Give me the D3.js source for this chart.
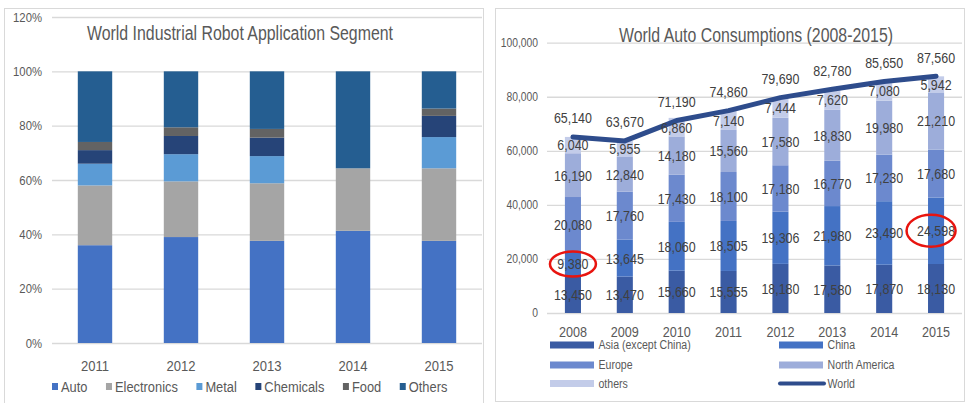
<!DOCTYPE html>
<html><head><meta charset="utf-8">
<script src="https://cdn.jsdelivr.net/npm/d3@7"></script>
<style>
html,body{margin:0;padding:0;background:#fff;}
svg{display:block;}
text{font-family:'Liberation Sans',Arial,sans-serif;}
</style></head>
<body>
<svg id="chart" width="968" height="403"></svg>
<script>
// ---------- Left chart data (share, %) ----------
const robotYears = ["2011","2012","2013","2014","2015"];
const robotSegments = ["Auto","Electronics","Metal","Chemicals","Food","Others"];
const autoShare = [36, 39, 37.6, 41.3, 37.6];
const electronicsShare = [22, 20.5, 21.2, 23, 26.7];
const metalShare = [8, 10, 10, 0, 11.5];
const chemicalsShare = [5, 6.7, 6.8, 0, 7.8];
const foodShare = [3, 3.2, 3.2, 0, 2.7];
const othersShare = [26, 20.6, 21.2, 35.7, 13.7];
const robotTicks = [0, 20, 40, 60, 80, 100, 120];
const robotColors = ["#4472C4","#A5A5A5","#5B9BD5","#264478","#636363","#255E91"];

// ---------- Right chart data (thousand units) ----------
const autoYears = ["2008","2009","2010","2011","2012","2013","2014","2015"];
const regionNames = ["Asia (except China)","China","Europe","North America","others"];
const asiaExChina = [13450, 13470, 15660, 15555, 18180, 17580, 17870, 18130];
const china = [9380, 13645, 18060, 18505, 19306, 21980, 23490, 24598];
const europe = [20080, 17760, 17430, 18100, 17180, 16770, 17230, 17680];
const northAmerica = [16190, 12840, 14180, 15560, 17580, 18830, 19980, 21210];
const otherRegions = [6040, 5955, 6860, 7140, 7444, 7620, 7080, 5942];
const world = [65140, 63670, 71190, 74860, 79690, 82780, 85650, 87560];
const autoTicks = [0, 20000, 40000, 60000, 80000, 100000];
const regionColors = ["#3A5BA3","#4472C4","#6C89CE","#9DADDA","#C3CCE9"];
const worldColor = "#2E4C8C";
const highlighted = [{year:"2008", region:"China"}, {year:"2015", region:"China"}];

const svg = d3.select("#chart");
const textCol = "#595959", gridCol = "#D9D9D9", labelCol = "#404040";

// horizontally condense text (the reference uses a narrow face)
function squeeze(sel, f) {
  sel.each(function(){
    const w = this.getComputedTextLength();
    d3.select(this).attr("textLength", w * f).attr("lengthAdjust", "spacingAndGlyphs");
  });
  return sel;
}

// panel frames
svg.append("rect").attr("x",4.5).attr("y",8.5).attr("width",479).attr("height",400)
  .attr("fill","none").attr("stroke","#D9D9D9");
svg.append("rect").attr("x",495.5).attr("y",8.5).attr("width",469).attr("height",393)
  .attr("fill","none").attr("stroke","#D9D9D9");

// ================= LEFT CHART =================
(function(){
  const L = svg.append("g");
  const x = d3.scaleBand().domain(robotYears).range([52,482]).paddingInner(0.6).paddingOuter(0.3);
  const y = d3.scaleLinear().domain([0,120]).range([343,17]);

  const yAxis = d3.axisLeft(y).tickValues(robotTicks).tickFormat(d => d + "%").tickSize(-430).tickPadding(10);
  const ga = L.append("g").attr("transform","translate(52,0)").call(yAxis);
  ga.select(".domain").remove();
  ga.selectAll("line").attr("stroke",gridCol).attr("stroke-width",1.3);
  squeeze(ga.selectAll("text").attr("fill",textCol).style("font-size","13px"), 0.87);

  const rows = robotYears.map((yr,i) => ({year:yr, Auto:autoShare[i], Electronics:electronicsShare[i],
    Metal:metalShare[i], Chemicals:chemicalsShare[i], Food:foodShare[i], Others:othersShare[i]}));
  const stacked = d3.stack().keys(robotSegments)(rows);
  const color = d3.scaleOrdinal().domain(robotSegments).range(robotColors);

  L.append("g").selectAll("g").data(stacked).join("g").attr("fill", d => color(d.key))
    .selectAll("rect").data(d => d).join("rect")
    .attr("x", d => x(d.data.year)).attr("width", x.bandwidth())
    .attr("y", d => y(d[1])).attr("height", d => Math.max(0, y(d[0]) - y(d[1])));

  const xAxis = d3.axisBottom(x).tickSize(0).tickPadding(0);
  const gx = L.append("g").attr("transform","translate(0,371)").call(xAxis);
  gx.select(".domain").remove();
  squeeze(gx.selectAll("text").attr("fill",textCol).style("font-size","15px").attr("dy","0"), 0.87);

  const title = L.append("text").attr("x",87).attr("y",40).attr("fill",textCol).style("font-size","20px")
    .text("World Industrial Robot Application Segment");
  title.attr("textLength",306).attr("lengthAdjust","spacingAndGlyphs");

  let lx = 52;
  const lg = L.append("g");
  robotSegments.forEach((s,i) => {
    lg.append("rect").attr("x",lx).attr("y",383).attr("width",6).attr("height",7).attr("fill",color(s));
    const t = lg.append("text").attr("x",lx+9).attr("y",392).attr("fill",textCol).style("font-size","15.5px").text(s);
    const w = t.node().getComputedTextLength() * 0.83;
    t.attr("textLength", w).attr("lengthAdjust","spacingAndGlyphs");
    lx += 9 + w + 18.5;
  });
})();

// ================= RIGHT CHART =================
(function(){
  const R = svg.append("g");
  const x = d3.scaleBand().domain(autoYears).range([547,962]).paddingInner(0.69).paddingOuter(0.345);
  const y = d3.scaleLinear().domain([0,100000]).range([313,42.7]);

  const yAxis = d3.axisLeft(y).tickValues(autoTicks).tickFormat(d3.format(",")).tickSize(-415).tickPadding(9);
  const ga = R.append("g").attr("transform","translate(547,0)").call(yAxis);
  ga.select(".domain").remove();
  ga.selectAll("line").attr("stroke",gridCol).attr("stroke-width",1.3);
  squeeze(ga.selectAll("text").attr("fill",textCol).style("font-size","12px"), 0.86);

  const title = R.append("text").attr("x",619).attr("y",42).attr("fill",textCol).style("font-size","20px")
    .text("World Auto Consumptions (2008-2015)");
  title.attr("textLength",274).attr("lengthAdjust","spacingAndGlyphs");

  const series = [asiaExChina, china, europe, northAmerica, otherRegions];
  const rows = autoYears.map((yr,i) => {
    const o = {year:yr};
    regionNames.forEach((r,j) => o[r] = series[j][i]);
    return o;
  });
  const stacked = d3.stack().keys(regionNames)(rows);
  const color = d3.scaleOrdinal().domain(regionNames).range(regionColors);

  R.append("g").selectAll("g").data(stacked).join("g").attr("fill", d => color(d.key))
    .selectAll("rect").data(d => d).join("rect")
    .attr("x", d => x(d.data.year)).attr("width", x.bandwidth())
    .attr("y", d => y(d[1])).attr("height", d => y(d[0]) - y(d[1]));

  const xAxis = d3.axisBottom(x).tickSize(0).tickPadding(0);
  const gx = R.append("g").attr("transform","translate(0,337)").call(xAxis);
  gx.select(".domain").remove();
  squeeze(gx.selectAll("text").attr("fill",textCol).style("font-size","14.5px").attr("dy","0"), 0.87);

  const cx = d => x(d) + x.bandwidth()/2;
  const line = d3.line().x((d,i) => cx(autoYears[i])).y(d => y(d));
  R.append("path").datum(world).attr("d", line).attr("fill","none")
    .attr("stroke",worldColor).attr("stroke-width",5).attr("stroke-linejoin","round").attr("stroke-linecap","round");

  const fmt = d3.format(",");
  const segLabels = R.append("g").selectAll("g").data(stacked).join("g")
    .selectAll("text").data(d => d.map(p => ({p, key:d.key}))).join("text")
    .attr("x", d => cx(d.p.data.year)).attr("y", d => y((d.p[0]+d.p[1])/2))
    .attr("dy","0.36em").attr("text-anchor","middle").attr("fill",labelCol).style("font-size","15px")
    .text(d => fmt(d.p[1]-d.p[0]));
  squeeze(segLabels, 0.83);

  const wLabels = R.append("g").selectAll("text").data(world).join("text")
    .attr("x", (d,i) => cx(autoYears[i])).attr("y", d => y(d) - 19)
    .attr("dy","0.36em").attr("text-anchor","middle").attr("fill",labelCol).style("font-size","15px")
    .text(d => fmt(d));
  squeeze(wLabels, 0.83);

  highlighted.forEach(h => {
    const i = autoYears.indexOf(h.year);
    const k = regionNames.indexOf(h.region);
    const p = stacked[k][i];
    R.append("ellipse").attr("cx", cx(h.year) - (i === autoYears.length-1 ? 5 : 0)).attr("cy", y((p[0]+p[1])/2))
      .attr("rx", i === 0 ? 23 : 24.5).attr("ry", i === 0 ? 12.5 : 16)
      .attr("fill","none").attr("stroke","#E8140F").attr("stroke-width",2.5);
  });

  const legendItems = [
    {name:regionNames[0], col:0, row:0, type:"bar"},
    {name:regionNames[1], col:1, row:0, type:"bar"},
    {name:regionNames[2], col:0, row:1, type:"bar"},
    {name:regionNames[3], col:1, row:1, type:"bar"},
    {name:regionNames[4], col:0, row:2, type:"bar"},
    {name:"World", col:1, row:2, type:"line"}
  ];
  const colX = [550, 779], rowY = [345, 365, 383.5];
  const lg = R.append("g");
  legendItems.forEach(it => {
    const lx = colX[it.col], ly = rowY[it.row];
    if (it.type === "bar") {
      lg.append("rect").attr("x",lx).attr("y",ly-3.5).attr("width",44).attr("height",7).attr("fill",color(it.name));
    } else {
      lg.append("line").attr("x1",lx+1).attr("x2",lx+45).attr("y1",ly).attr("y2",ly)
        .attr("stroke",worldColor).attr("stroke-width",4).attr("stroke-linecap","round");
    }
    const t = lg.append("text").attr("x",lx+48.5).attr("y",ly).attr("dy","0.35em").attr("fill",textCol)
      .style("font-size","12px").text(it.name);
    squeeze(t, 0.88);
  });
})();
</script>
</body></html>
